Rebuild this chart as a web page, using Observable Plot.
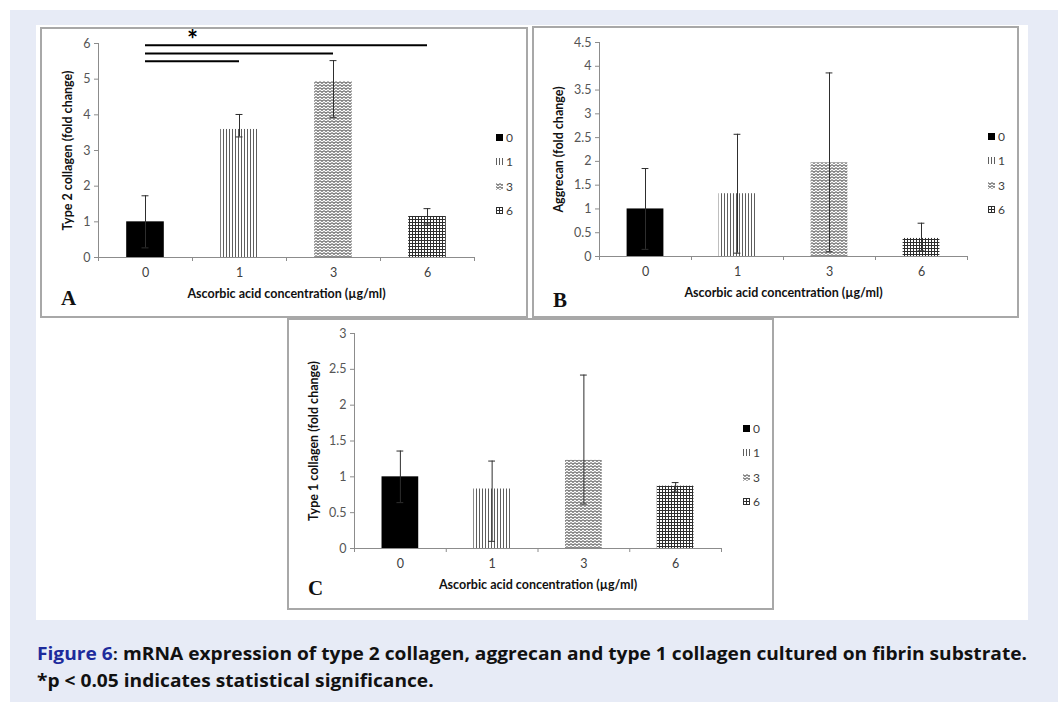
<!DOCTYPE html>
<html>
<head>
<meta charset="utf-8">
<script src="https://cdn.jsdelivr.net/npm/d3@7"></script>
<script src="https://cdn.jsdelivr.net/npm/@observablehq/plot@0.6"></script>
<style>
  html, body { margin: 0; padding: 0; background: #ffffff; }
  body { width: 1058px; height: 702px; position: relative; overflow: hidden; font-family: Lato, "Open Sans", sans-serif; }
  .abs { position: absolute; }
  .panel { position: absolute; box-sizing: border-box; border: 2px solid #a8a8a8; }
  .legend { position: absolute; font: 12px Lato, sans-serif; color: #404040; }
  .legend .row { position: absolute; left: 0; display: flex; align-items: center; white-space: nowrap; }
  .legend svg { display: block; margin-right: 3px; }
  .letter { position: absolute; font: bold 21px "Liberation Serif", "DejaVu Serif", serif; color: #111; line-height: 1; }
  .caption { position: absolute; left: 37px; font: bold 17px "Open Sans", sans-serif; color: #111; white-space: nowrap; transform-origin: 0 0; }
</style>
</head>
<body>
<div class="abs" style="left:10px;top:10px;width:1048px;height:692px;background:#e7ebf6"></div>
<div class="abs" style="left:36px;top:25px;width:992px;height:595px;background:#ffffff"></div>

<svg width="0" height="0" style="position:absolute">
  <defs>
    <pattern id="patV" width="3" height="3" patternUnits="userSpaceOnUse">
      <rect width="3" height="3" fill="#fff"/>
      <line x1="0.5" y1="0" x2="0.5" y2="3" stroke="#5e5e5e" stroke-width="1"/>
    </pattern>
    <pattern id="patZ" width="4" height="3" patternUnits="userSpaceOnUse">
      <rect width="4" height="3" fill="#fff"/>
      <path d="M0,0.6 L2,2.4 L4,0.6" fill="none" stroke="#606060" stroke-width="1.05"/>
    </pattern>
    <pattern id="patG" width="3" height="3" patternUnits="userSpaceOnUse">
      <rect width="3" height="3" fill="#fff"/>
      <line x1="0.5" y1="0" x2="0.5" y2="3" stroke="#2e2e2e" stroke-width="1"/>
      <line x1="0" y1="0.5" x2="3" y2="0.5" stroke="#2e2e2e" stroke-width="1"/>
    </pattern>
  </defs>
</svg>

<div id="root"></div>

<script>
// ---------- data ----------
const concentrations = ["0", "1", "3", "6"];
const barFills = ["#000000", "url(#patV)", "url(#patZ)", "url(#patG)"];
const xTitle = "Ascorbic acid concentration (µg/ml)";
const xTickBounds = [-0.5, 0.5, 1.5, 2.5, 3.5];

// Panel A: type 2 collagen
const col2Title = "Type 2 collagen (fold change)";
const col2Mean  = [1.00, 3.59, 4.93, 1.15];
const col2Upper = [1.73, 4.01, 5.52, 1.37];
const col2Lower = [0.27, 3.38, 3.93, 0.94];
const col2Ticks = [0, 1, 2, 3, 4, 5, 6];
// significance brackets (from category index to category index, at level)
const sigFrom  = [0, 0, 0];
const sigTo    = [3, 2, 1];
const sigLevel = [5.95, 5.72, 5.50];
const sigStarText = ["*"];
const sigStarX = [0.5];
const sigStarY = [6.07];

// Panel B: aggrecan
const aggTitle = "Aggrecan (fold change)";
const aggMean  = [1.00, 1.32, 1.97, 0.38];
const aggUpper = [1.85, 2.57, 3.86, 0.70];
const aggLower = [0.15, 0.07, 0.10, 0.12];
const aggTicks = [0, 0.5, 1, 1.5, 2, 2.5, 3, 3.5, 4, 4.5];

// Panel C: type 1 collagen
const col1Title = "Type 1 collagen (fold change)";
const col1Mean  = [1.00, 0.83, 1.23, 0.87];
const col1Upper = [1.36, 1.22, 2.42, 0.92];
const col1Lower = [0.64, 0.10, 0.62, 0.79];
const col1Ticks = [0, 0.5, 1, 1.5, 2, 2.5, 3];

// ---------- drawing ----------
const axisColor = "#8c8c8c";
const errColor = "#2e2e2e";
const root = document.getElementById("root");

function panel(cfg) {
  const rows = concentrations.map((c, i) => ({
    i, c, mean: cfg.mean[i], upper: cfg.upper[i], lower: cfg.lower[i], fill: barFills[i]
  }));
  const marks = [
    Plot.rectY(rows, {x1: d => d.i - 0.2, x2: d => d.i + 0.2, y1: 0, y2: "mean", fill: "fill"}),
    Plot.ruleX(rows, {x: "i", y1: "lower", y2: "upper", stroke: errColor, strokeWidth: 1}),
    Plot.ruleY(rows, {x1: d => d.i - 0.037, x2: d => d.i + 0.037, y: "upper", stroke: errColor, strokeWidth: 1}),
    Plot.ruleY(rows, {x1: d => d.i - 0.037, x2: d => d.i + 0.037, y: "lower", stroke: errColor, strokeWidth: 1}),
    Plot.ruleY([0], {stroke: axisColor}),
    Plot.ruleX([-0.5], {stroke: axisColor}),
    Plot.axisY({ticks: cfg.ticks, tickSize: 4, tickPadding: 4, tickFormat: d => String(d), stroke: axisColor, fill: "#555", fontSize: 12.5, label: null}),
    Plot.axisX({ticks: [0, 1, 2, 3], tickSize: 0, tickPadding: 11, tickFormat: i => concentrations[i], fill: "#404040", fontSize: 12.5, label: null}),
    Plot.axisX({ticks: xTickBounds, tickSize: 4, tickFormat: () => "", stroke: axisColor, label: null}),
    Plot.text([cfg.ytitle], {frameAnchor: "left", textAnchor: "middle", rotate: -90, dx: cfg.ytdx, fontWeight: "bold", fill: "#111", fontSize: 12.5}),
    Plot.text([xTitle], {frameAnchor: "bottom", textAnchor: "middle", dy: 40, fontWeight: "bold", fill: "#111", fontSize: 12.5}),
    ...(cfg.extra || [])
  ];
  const svg = Plot.plot({
    width: cfg.w, height: cfg.h,
    marginLeft: cfg.ml, marginRight: cfg.mr, marginTop: cfg.mt, marginBottom: cfg.mb,
    x: {domain: [-0.5, 3.5], label: null},
    y: {domain: [0, cfg.ticks[cfg.ticks.length - 1]], label: null},
    color: {type: "identity"},
    style: {fontFamily: "Lato, sans-serif", fontSize: "12.5px", color: "#404040", background: "transparent", overflow: "visible"},
    marks
  });
  svg.style.position = "absolute";
  svg.style.left = cfg.left + "px";
  svg.style.top = cfg.top + "px";

  const box = document.createElement("div");
  box.className = "panel";
  Object.assign(box.style, {left: cfg.left + "px", top: cfg.top + "px", width: cfg.w + "px", height: cfg.h + "px"});
  root.appendChild(box);
  root.appendChild(svg);

  // legend
  const lg = document.createElement("div");
  lg.className = "legend";
  Object.assign(lg.style, {left: (cfg.left + 456) + "px", top: (cfg.top + 110) + "px"});
  concentrations.forEach((c, i) => {
    const row = document.createElement("div");
    row.className = "row";
    row.style.top = (i * 24.5 - 7) + "px";
    row.style.height = "14px";
    row.innerHTML = `<svg width="7" height="7"><rect width="7" height="7" fill="${barFills[i]}"/></svg><span>${c}</span>`;
    lg.appendChild(row);
  });
  root.appendChild(lg);

  // panel letter
  const L = document.createElement("div");
  L.className = "letter";
  L.textContent = cfg.letter;
  Object.assign(L.style, {left: (cfg.left + 21) + "px", top: (cfg.top + cfg.letterTop) + "px"});
  root.appendChild(L);
}

const sigRows = sigFrom.map((f, k) => ({from: f, to: sigTo[k], level: sigLevel[k]}));
const starRows = sigStarText.map((t, k) => ({t, x: sigStarX[k], y: sigStarY[k]}));

panel({
  letter: "A", letterTop: 261, ytdx: -31,
  left: 40, top: 27, w: 488, h: 291, ml: 58, mr: 54, mt: 16, mb: 61,
  mean: col2Mean, upper: col2Upper, lower: col2Lower, ticks: col2Ticks, ytitle: col2Title,
  extra: [
    Plot.ruleY(sigRows, {y: "level", x1: "from", x2: "to", stroke: "#000", strokeWidth: 2}),
    Plot.text(starRows, {x: "x", y: "y", text: "t", fontSize: 26, fontWeight: "bold", fill: "#000"})
  ]
});
panel({
  letter: "B", letterTop: 264, ytdx: -41,
  left: 532, top: 26, w: 487, h: 292, ml: 67, mr: 52, mt: 16, mb: 62,
  mean: aggMean, upper: aggUpper, lower: aggLower, ticks: aggTicks, ytitle: aggTitle
});
panel({
  letter: "C", letterTop: 260, ytdx: -41,
  left: 287, top: 318, w: 487, h: 292, ml: 67, mr: 53, mt: 15, mb: 62,
  mean: col1Mean, upper: col1Upper, lower: col1Lower, ticks: col1Ticks, ytitle: col1Title
});

// caption
const cap1 = document.createElement("div");
cap1.className = "caption";
cap1.style.top = "642px";
cap1.innerHTML = '<span style="color:#1d2b9c">Figure 6</span><span style="font-weight:600">:</span> mRNA expression of type 2 collagen, aggrecan and type 1 collagen cultured on fibrin substrate.';
const cap2 = document.createElement("div");
cap2.className = "caption";
cap2.style.top = "669px";
cap2.textContent = "*p < 0.05 indicates statistical significance.";
root.appendChild(cap1);
root.appendChild(cap2);
const w1 = cap1.getBoundingClientRect().width;
const s = 990 / w1;
cap1.style.transform = `scaleX(${s})`;
cap2.style.transform = `scaleX(${s})`;
</script>
</body>
</html>
